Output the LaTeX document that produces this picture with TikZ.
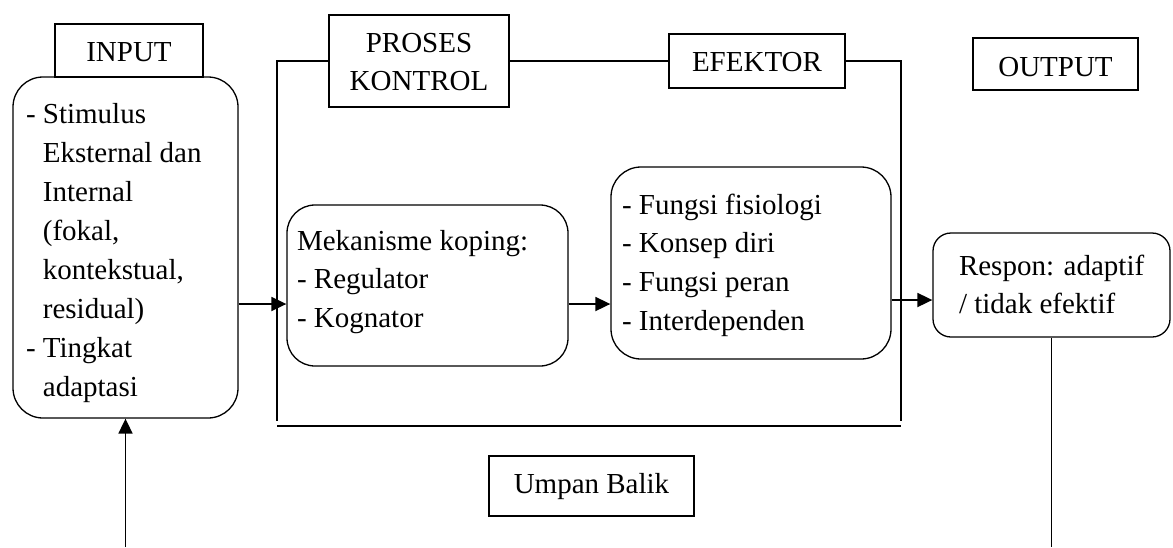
\documentclass[tikz,border=0pt]{standalone}
\usepackage{fontspec}
\setmainfont{Liberation Serif}
\usetikzlibrary{arrows.meta}
\begin{document}
\begin{tikzpicture}[x=1pt,y=-1pt,
  box/.style={draw,line width=1.3pt,rectangle,inner sep=0pt,fill=white},
  rbox/.style={box,rounded corners=#1},
  txt/.style={inner sep=0pt,outer sep=0pt,anchor=base west,font=\fontsize{29}{38.8}\selectfont},
  ctxt/.style={txt,anchor=base},
  ln/.style={line width=1.8pt},
  arr/.style={ln,-{Triangle[length=15pt,width=14pt]}}]
\useasboundingbox (0,0) rectangle (1173,547);
% boxes
\node[rbox=30pt,minimum width=225pt,minimum height=341pt] (inbox) at (125.5,247.5) {};
\node[box,minimum width=148pt,minimum height=53pt] (inputbox) at (129,50.5) {};
\node[box,minimum width=180pt,minimum height=92pt] (proses) at (419,61) {};
\node[box,minimum width=176pt,minimum height=54pt] (efektor) at (757,61) {};
\node[box,minimum width=165pt,minimum height=52pt] (output) at (1055.5,64) {};
\node[rbox=28pt,minimum width=281pt,minimum height=161pt] (meka) at (427.5,285.5) {};
\node[rbox=30pt,minimum width=280pt,minimum height=192pt] (fungsi) at (751,263) {};
\node[rbox=18pt,minimum width=237pt,minimum height=104pt] (respon) at (1051.5,285) {};
\node[box,minimum width=205pt,minimum height=60pt] (umpan) at (591.5,486) {};
% texts
\node[txt,font=\fontsize{29}{39.1}\selectfont] (tin) at (26,123) {\begin{tabular}[t]{@{}l@{\ }l@{}}-&Stimulus\\&Eksternal dan\\&Internal\\&(fokal,\\&kontekstual,\\&residual)\\-&Tingkat\\&adaptasi\end{tabular}};
\node[ctxt] (tinput) at (129,61) {INPUT};
\node[ctxt] (tproses) at (419,52) {\begin{tabular}[t]{@{}c@{}}PROSES\\KONTROL\end{tabular}};
\node[ctxt] (tefektor) at (757,71) {EFEKTOR};
\node[ctxt] (toutput) at (1055.5,76) {OUTPUT};
\node[ctxt] (tumpan) at (591.5,493) {Umpan Balik};
\node[txt,font=\fontsize{29}{38.5}\selectfont] (tmeka) at (297,250) {\begin{tabular}[t]{@{}l@{}}Mekanisme koping:\\- Regulator\\- Kognator\end{tabular}};
\node[txt,font=\fontsize{29}{38.7}\selectfont] (tfungsi) at (622,214) {\begin{tabular}[t]{@{}l@{}}- Fungsi fisiologi\\- Konsep diri\\- Fungsi peran\\- Interdependen\end{tabular}};
\node[txt,font=\fontsize{29}{38}\selectfont] (trespon) at (959,275) {\begin{tabular}[t]{@{}l@{}}Respon: adaptif\\/ tidak efektif\end{tabular}};
% helper coordinates
\coordinate (fl) at (277,61);
\coordinate (fr) at (901,61);
\coordinate (flb) at (277,421);
\coordinate (frb) at (901,421);
\coordinate (bl) at (277,426);
\coordinate (br) at (901,426);
\coordinate (ya) at (0,304);
\coordinate (yb) at (0,300);
\coordinate (bot) at (0,547);
% frame
\draw[ln] (proses.west) -- (fl) -- (flb);
\draw[ln] (proses.east) -- (efektor.west);
\draw[ln] (efektor.east) -- (fr) -- (frb);
\draw[line width=2.4pt] (bl) -- (br);
% connectors
\draw[arr] (inbox.east |- ya) -- (meka.west |- ya);
\draw[arr] (meka.east |- ya) -- (fungsi.west |- ya);
\draw[arr] (fungsi.east |- yb) -- (respon.west |- yb);
\draw[ln] (respon.south) -- (respon.south |- bot);
\draw[arr] (inbox.south |- bot) -- (inbox.south);
\end{tikzpicture}
\end{document}
